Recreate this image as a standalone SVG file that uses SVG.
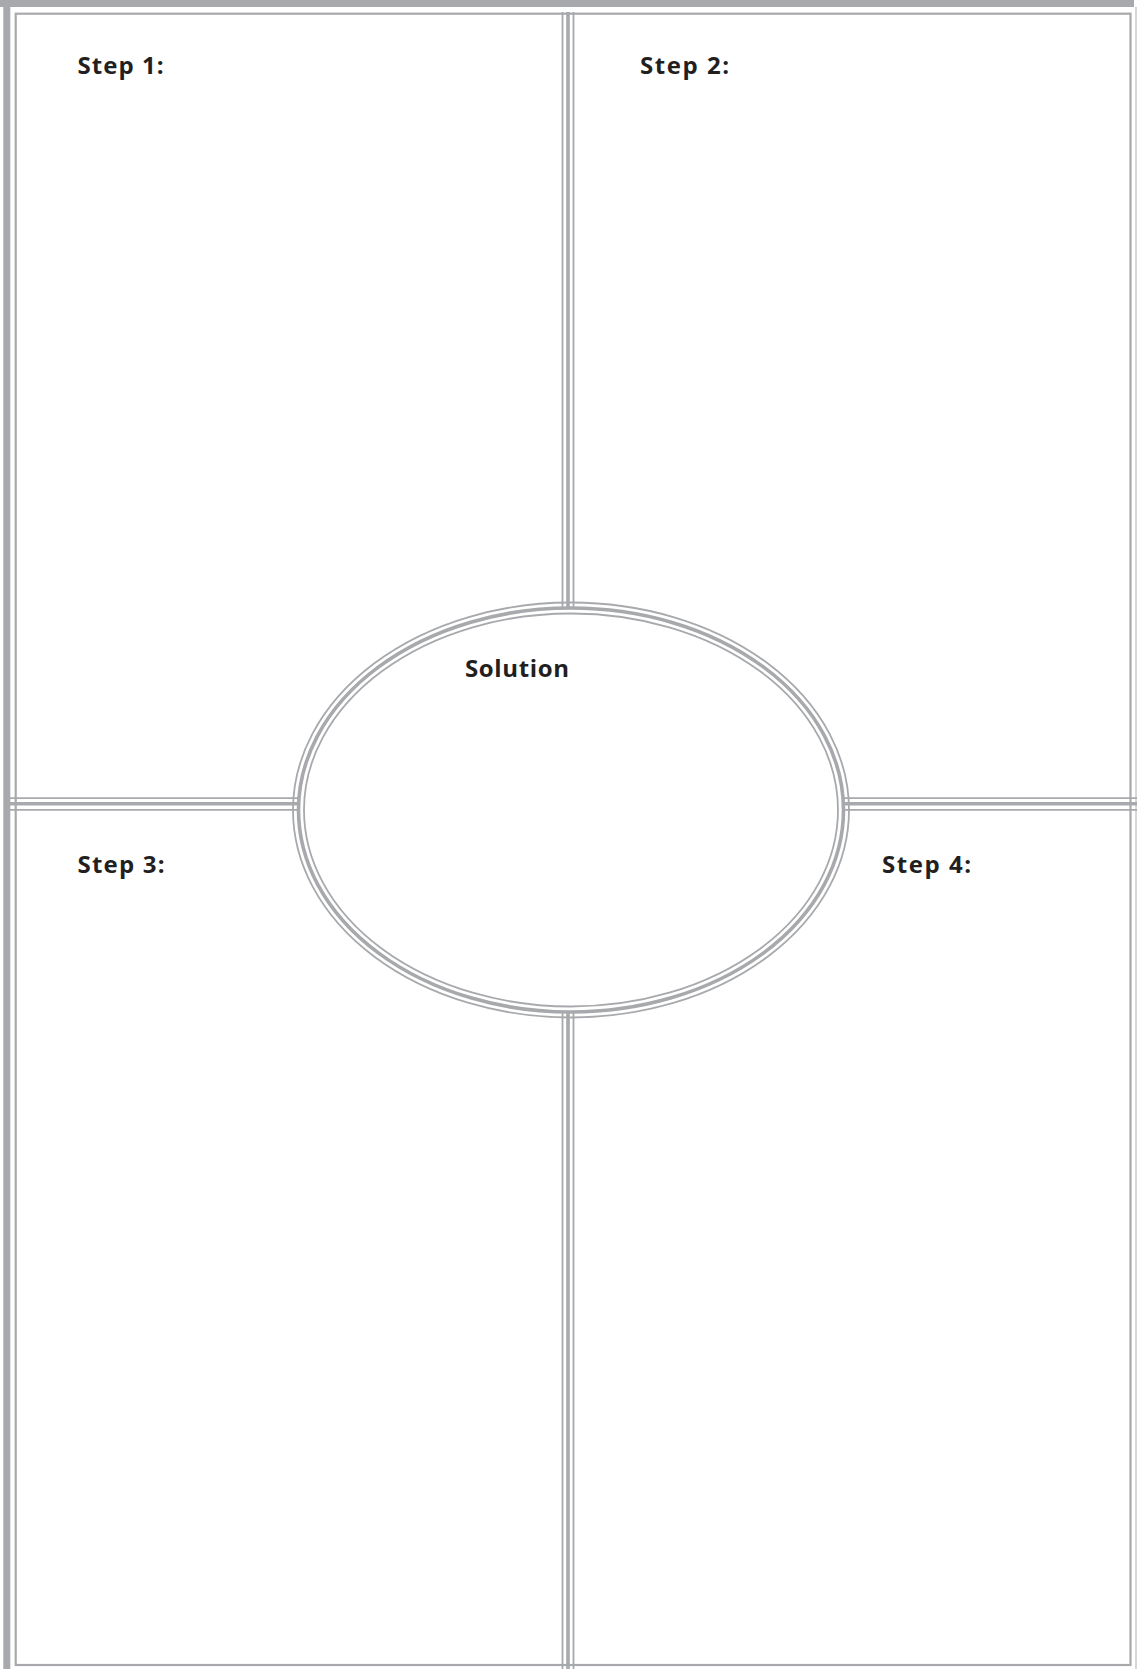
<svg xmlns="http://www.w3.org/2000/svg" width="1137" height="1669" viewBox="0 0 1137 1669">
  <style>
    .thin { stroke: #a7a9ac; stroke-width: 1.8; fill: none; }
    .thick { stroke: #a7a9ac; stroke-width: 3.6; fill: none; }
    .label { font-family: "Open Sans", "Lato", "Liberation Sans", sans-serif; font-weight: bold; font-size: 24px; fill: #231f20; font-variant-ligatures: none; }
  </style>
  <rect width="1137" height="1669" fill="#ffffff"/>
  <g id="frame">
    <rect x="0" y="0" width="1134" height="7" fill="#a7a9ac"/>
    <rect x="3.3" y="0" width="7" height="1669" fill="#a7a9ac"/>
    <line x1="1136" y1="7" x2="1136" y2="1669" stroke="#d6d7d9" stroke-width="2"/>
    <rect x="15.7" y="13.7" width="1114.8" height="1651.3" fill="none" stroke="#a7a9ac" stroke-width="2.2"/>
  </g>
  <g id="connectors">
    <line class="thin" x1="562.5" y1="12" x2="562.5" y2="640"/>
    <line class="thick" x1="568" y1="12" x2="568" y2="640"/>
    <line class="thin" x1="573.5" y1="12" x2="573.5" y2="640"/>
    <line class="thin" x1="562.5" y1="980" x2="562.5" y2="1669"/>
    <line class="thick" x1="568" y1="980" x2="568" y2="1669"/>
    <line class="thin" x1="573.5" y1="980" x2="573.5" y2="1669"/>
    <line class="thin" x1="10" y1="798.2" x2="330" y2="798.2"/>
    <line class="thick" x1="10" y1="803.7" x2="330" y2="803.7"/>
    <line class="thin" x1="10" y1="809.8" x2="330" y2="809.8"/>
    <line class="thin" x1="810" y1="798.2" x2="1137" y2="798.2"/>
    <line class="thick" x1="810" y1="803.7" x2="1137" y2="803.7"/>
    <line class="thin" x1="810" y1="809.8" x2="1137" y2="809.8"/>
  </g>
  <g id="solution">
    <ellipse cx="571" cy="810" rx="272.5" ry="202" fill="#ffffff" stroke="none"/>
    <ellipse class="thin" cx="571" cy="810" rx="278" ry="207.5"/>
    <ellipse class="thick" cx="571" cy="810" rx="272.5" ry="202"/>
    <ellipse class="thin" cx="571" cy="810" rx="267" ry="196.5"/>
    <text class="label" x="465" y="676.5" textLength="104" lengthAdjust="spacing">Solution</text>
  </g>
  <g id="step1">
    <text class="label" x="77.5" y="74" textLength="86" lengthAdjust="spacing">Step 1:</text>
  </g>
  <g id="step2">
    <text class="label" x="640" y="74" textLength="89" lengthAdjust="spacing">Step 2:</text>
  </g>
  <g id="step3">
    <text class="label" x="77.5" y="873.3" textLength="87" lengthAdjust="spacing">Step 3:</text>
  </g>
  <g id="step4">
    <text class="label" x="882" y="873.3" textLength="89" lengthAdjust="spacing">Step 4:</text>
  </g>
</svg>
